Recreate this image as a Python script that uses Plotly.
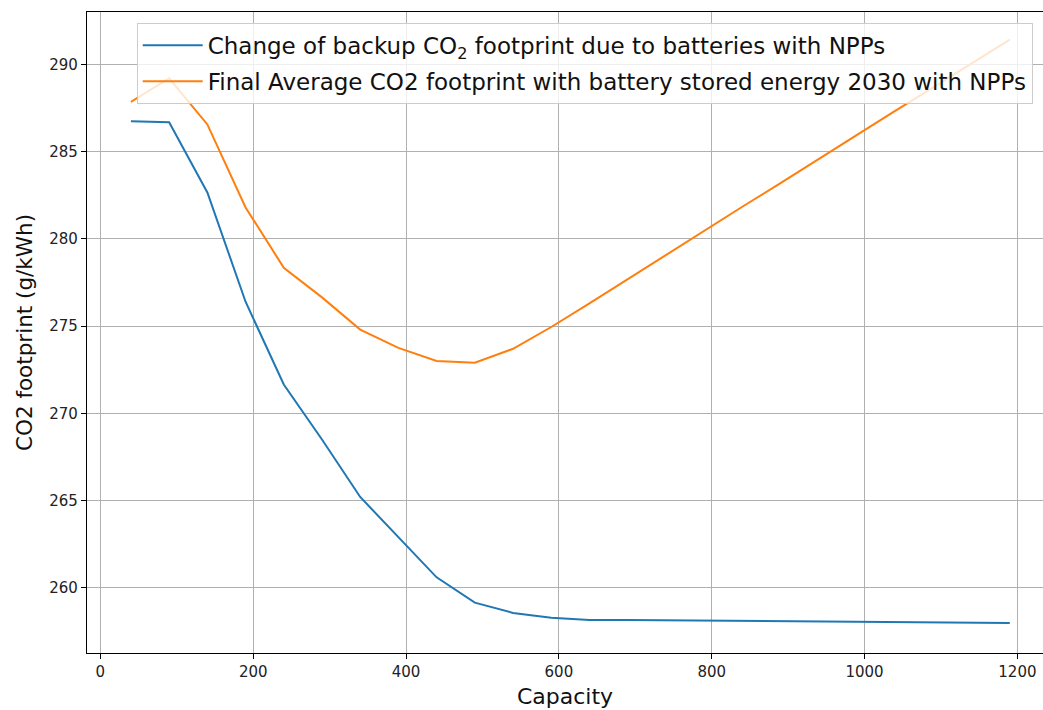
import plotly.graph_objects as go

capacity = [40, 90, 140, 190, 240, 290, 340, 390, 440, 490, 540, 590, 640,
            690, 740, 790, 840, 890, 940, 990, 1040, 1090, 1140, 1190]
backup_co2 = [286.76, 286.70, 282.67, 276.40, 271.65, 268.50, 265.20, 262.90,
              260.59, 259.14, 258.55, 258.27, 258.15, 258.14, 258.12, 258.10,
              258.08, 258.06, 258.04, 258.02, 258.00, 257.99, 257.98, 257.97]
final_avg_co2 = [287.87, 289.22, 286.57, 281.81, 278.35, 276.65, 274.80, 273.75,
                 273.00, 272.90, 273.70, 274.95, 276.30, 277.70, 279.10, 280.45,
                 281.85, 283.20, 284.60, 285.95, 287.35, 288.70, 290.05, 291.43]

name_backup = "Change of backup CO<sub>2</sub> footprint due to batteries with NPPs"
name_final = "Final Average CO2 footprint with battery stored energy 2030 with NPPs"

x_ticks = [0, 200, 400, 600, 800, 1000, 1200]
y_ticks = [260, 265, 270, 275, 280, 285, 290]

fig = go.Figure()
fig.add_trace(go.Scatter(x=capacity, y=backup_co2, mode="lines", name=name_backup,
                         legendgroup="a",
                         line=dict(color="#1f77b4", width=2)))
fig.add_trace(go.Scatter(x=capacity, y=final_avg_co2, mode="lines", name=name_final,
                         legendgroup="b",
                         line=dict(color="#ff7f0e", width=2)))

axis_common = dict(
    showgrid=True, gridcolor="#b0b0b0", gridwidth=1,
    showline=True, linecolor="#000000", linewidth=1.2,
    ticks="outside", ticklen=5, tickcolor="#000000", tickwidth=1,
    tickfont=dict(family="DejaVu Sans", size=15, color="#222222"),
    zeroline=False,
)

fig.update_layout(
    width=1043, height=710,
    margin=dict(l=87, r=0, t=12, b=57),
    plot_bgcolor="white", paper_bgcolor="white",
    xaxis=dict(range=[-17.5, 1233.5], tickvals=x_ticks, mirror=True,
               title=dict(text="Capacity", standoff=8,
                          font=dict(family="DejaVu Sans", size=22, color="#111111")),
               **axis_common),
    yaxis=dict(range=[256.25, 293.02], tickvals=y_ticks, mirror=False,
               title=dict(text="CO2 footprint (g/kWh)", standoff=10,
                          font=dict(family="DejaVu Sans", size=21.5, color="#111111")),
               **axis_common),
    legend=dict(x=0.052, y=0.983, xanchor="left", yanchor="top",
                bgcolor="rgba(255,255,255,0.8)", bordercolor="#cccccc", borderwidth=1,
                font=dict(family="DejaVu Sans", size=23, color="#111111"),
                tracegroupgap=3, itemwidth=60),
    showlegend=True,
)

fig.write_html("out.html")
